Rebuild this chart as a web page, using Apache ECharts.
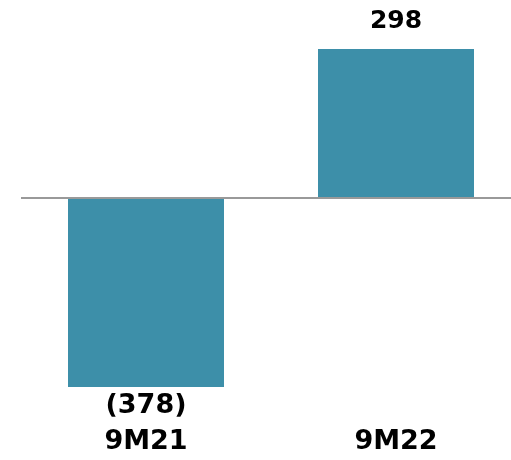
<!DOCTYPE html>
<html><head><meta charset="utf-8">
<script src="https://cdn.jsdelivr.net/npm/echarts@6/dist/echarts.min.js"></script>
<style>html,body{margin:0;padding:0;background:#fff}#c{width:511px;height:460px}</style>
</head><body><div id="c"></div>
<script>
const categories = ["9M21", "9M22"];
const values = [-378, 298];
const labelTexts = ["(378)", "298"];

const chart = echarts.init(document.getElementById('c'), null, {renderer: 'canvas'});
const font = '"DejaVu Sans", sans-serif';
chart.setOption({
  animation: false,
  grid: {left: 21, width: 500, top: 48, bottom: 62, containLabel: false, outerBoundsMode: 'none'},
  xAxis: {
    type: 'category', data: categories, position: 'bottom',
    axisLine: {show: false, onZero: false}, axisTick: {show: false},
    axisLabel: {margin: 30, color: '#000', fontFamily: font, fontWeight: 'bold', fontSize: 27}
  },
  yAxis: {type: 'value', min: -400, max: 300, show: false, splitLine: {show: false}},
  series: [{
    type: 'bar', barWidth: 156,
    data: values.map((v, i) => ({
      value: v,
      label: {
        show: true, position: v >= 0 ? 'top' : 'bottom', distance: v >= 0 ? 15 : 5,
        formatter: labelTexts[i], color: '#000', fontFamily: font, fontWeight: 'bold',
        fontSize: v >= 0 ? 25 : 27
      }
    })),
    itemStyle: {color: '#3D8FA9'},
    markLine: {
      silent: true, symbol: 'none', label: {show: false},
      lineStyle: {color: '#999', width: 2, type: 'solid'},
      data: [{yAxis: 0}]
    }
  }]
});
</script></body></html>
